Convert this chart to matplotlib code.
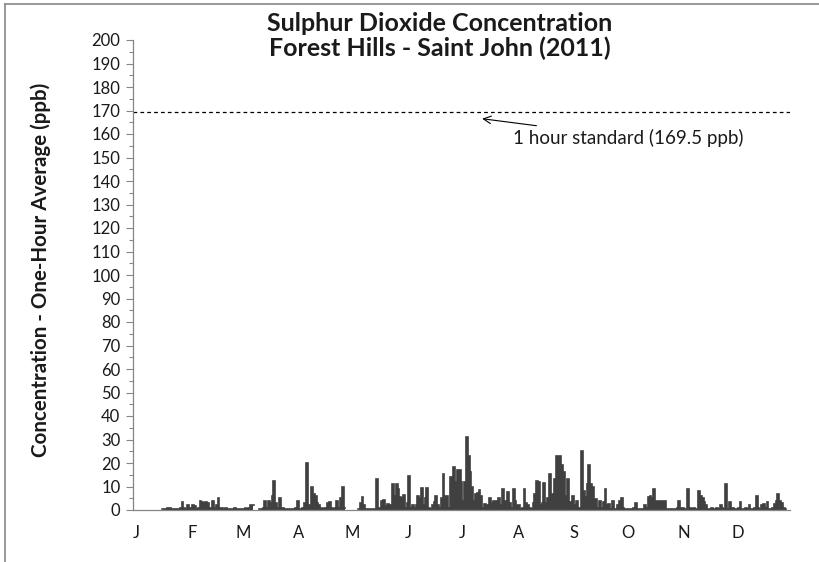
import numpy as np
import matplotlib
matplotlib.use("Agg")
import matplotlib.pyplot as plt
from matplotlib.lines import Line2D
from matplotlib.ticker import MultipleLocator

N = None
# Daily peak one-hour SO2 (ppb) (None = no data)
jan = [N, N, N, N, N, N, N, N, N, N, N, N, N, N, N, N,
       0.5, 0.3, 0.5, 1, 1, 0.3, 0.5, 0.3, 0.5, 0.3, 1, 3.3, 1, 0.5, 2]
feb = [1, 1, 2.3, 1.5, 0.5, 1, 4, 3.5, 3, 3.3, 3, 0.5, 1, 4, 1, 2, 5, 1, 1, 0.5,
       1, 0.3, 0.3, 0.3, 0.5, 1, 0.3, 0.3]
mar = [0.3, 0.3, 0.5, 1, 0.3, 1, 2, 2.3, N, N, N, 0.3, 0.5, 1, 4, 1, 4, 3, 6, 12.3,
       3, 1, 5, 1, 1, 0.3, 0.3, 0.3, 0.3, 0.3, 0.5]
apr = [1, 4, 0.5, 0.3, 1, 3, 20, 1, 2, 10, 7, 6, 3, 2, 1, 0.5, 1, 0.5, 3, 3.3,
       1, 0.5, 1, 4, 1, 5, 10, 1, N, N]
may = [N, N, N, N, N, 0.5, 3, 5.4, 2, 0.3, 0.3, 0.3, 0.3, 0.3, 0.5, 13.3, 1, 0.5, 4, 4.3,
       1.5, 2.5, 1, 2, 11, 6, 11, 9, 5.4, 5, 6.4]
jun = [1, 3, 14.3, 1, 2, 1, 2, 6, 5, 9.3, 2, 5, 9.3, 1, 0.5, 2, 3.3, 6, 2, 1,
       5, 15.4, 6, 6, 1, 14, 12, 18.3, 12, 17]
jul = [17, 12, 4, 12, 31, 23, 16, 10, 4, 7, 7.3, 8.3, 6, 1, 2.5, 2, 1, 5, 3, 4,
       4, 3, 5, 2, 9, 4, 2, 7.6, 3, 1, 9]
aug = [4, 2, 2, 0.5, 1, 9, 3, 2, 1, 0.5, 3, 7, 12.3, 12, 2, 3, 11.4, 3, 5, 15.4,
       4, 7, 13.3, 23, 23, 23, 19, 16, 6, 13, 2]
sep = [3.3, 6, 2, 4, 0.5, 1, 25, 8, 5.4, 11, 19, 11, 9.7, 4.7, 4.7, 1, 4, 1, 3.3, 9,
       2, 2.6, 0.5, 4, 0.5, 0.3, 2, 4, 5, 1]
oct_ = [0.3, 0.3, 0.3, 0.3, 0.3, 1, 3, 0.5, 0.3, 0.3, 0.3, 2, 1, 5.4, 6, 5, 9, 4, 4, 4,
        4, 4, 4, 0.3, 0.3, 0.3, 0.3, 0.3, 0.3, 1, 4]
nov = [1, 1, 0.3, 0.5, 9, 1, 0.3, 1, 0.3, 0.5, 8, 6, 5, 3.3, 2, 0.3, 0.5, 1, 0.5, 0.3,
       1, 0.3, 2, 1, 0.3, 11, 0.5, 3.3, 0.5, 1]
dec = [0.3, 0.5, 1, 3.3, 0.5, 0.3, 1, 0.5, 2, 0.5, 0.3, 1, 6, 1, 0.5, 2, 2.6, 1, 3.3, 0.5,
       0.3, 1, 2.6, 4, 7, 4, 3, 1, 0.5, N, N]

month_labels = ["J", "F", "M", "A", "M", "J", "J", "A", "S", "O", "N", "D"]
month_starts = [0, 31, 59, 90, 120, 151, 181, 212, 243, 273, 304, 334]
standard = 169.5

months = [jan, feb, mar, apr, may, jun, jul, aug, sep, oct_, nov, dec]
values = np.array([np.nan if v is None else v for m in months for v in m], dtype=float)
days = np.arange(len(values)) + 0.5

plt.rcParams['font.family'] = ['Lato', 'DejaVu Sans']
dark = "#404040"
txt = "#1a1a1a"

fig = plt.figure(figsize=(8.2, 5.62), dpi=100)
ax = fig.add_axes([133 / 820, 1 - 510 / 562, (790 - 133) / 820, (510 - 40) / 562])

ax.fill_between(days, 0, values, where=~np.isnan(values), step="mid",
                color=dark, lw=0, interpolate=False)
ax.plot(days, values, color=dark, lw=1.2, drawstyle="steps-mid", solid_joinstyle="miter")

ax.axhline(standard, color="black", lw=0.9, ls=(0, (3, 2.5)))
ax.annotate("1 hour standard (169.5 ppb)", xy=(194, 166.5), xytext=(211, 158.5),
            fontsize=13.5, va="center", ha="left", color=txt,
            arrowprops=dict(arrowstyle="->", color="black", lw=0.8, shrinkA=0, shrinkB=0))

ax.set_xlim(0, 365)
ax.set_ylim(0, 200)
ax.yaxis.set_major_locator(MultipleLocator(10))
ax.yaxis.set_minor_locator(MultipleLocator(5))
ax.set_xticks([s + 2 for s in month_starts])
ax.set_xticklabels(month_labels)
ax.tick_params(axis="x", length=0, pad=11, labelsize=12, colors=txt)
ax.tick_params(axis="y", which="major", length=5, width=0.8, color="#868686",
               labelsize=12, labelcolor=txt, pad=4)
ax.tick_params(axis="y", which="minor", length=3, width=0.8, color="#868686")

for s in ["top", "right"]:
    ax.spines[s].set_visible(False)
for s in ["left", "bottom"]:
    ax.spines[s].set_color("#868686")
    ax.spines[s].set_linewidth(0.9)

fig.text(41 / 820, 1 - 270 / 562, "Concentration - One-Hour Average (ppb)", rotation=90,
         ha="center", va="center", fontsize=14.8, fontweight="bold", color=txt)
fig.text(440 / 820, 1 - 36 / 562, "Sulphur Dioxide Concentration\nForest Hills - Saint John (2011)",
         ha="center", va="center", fontsize=18, fontweight="bold", color=txt,
         linespacing=1.08)

# chart frame (only top and left edges visible in the reference)
fig.add_artist(Line2D([5 / 820, 1], [1 - 4 / 562, 1 - 4 / 562], transform=fig.transFigure,
                      color="#868686", lw=1.2))
fig.add_artist(Line2D([5 / 820, 5 / 820], [0, 1 - 4 / 562], transform=fig.transFigure,
                      color="#868686", lw=1.2))

fig.savefig("out.png", dpi=100)
